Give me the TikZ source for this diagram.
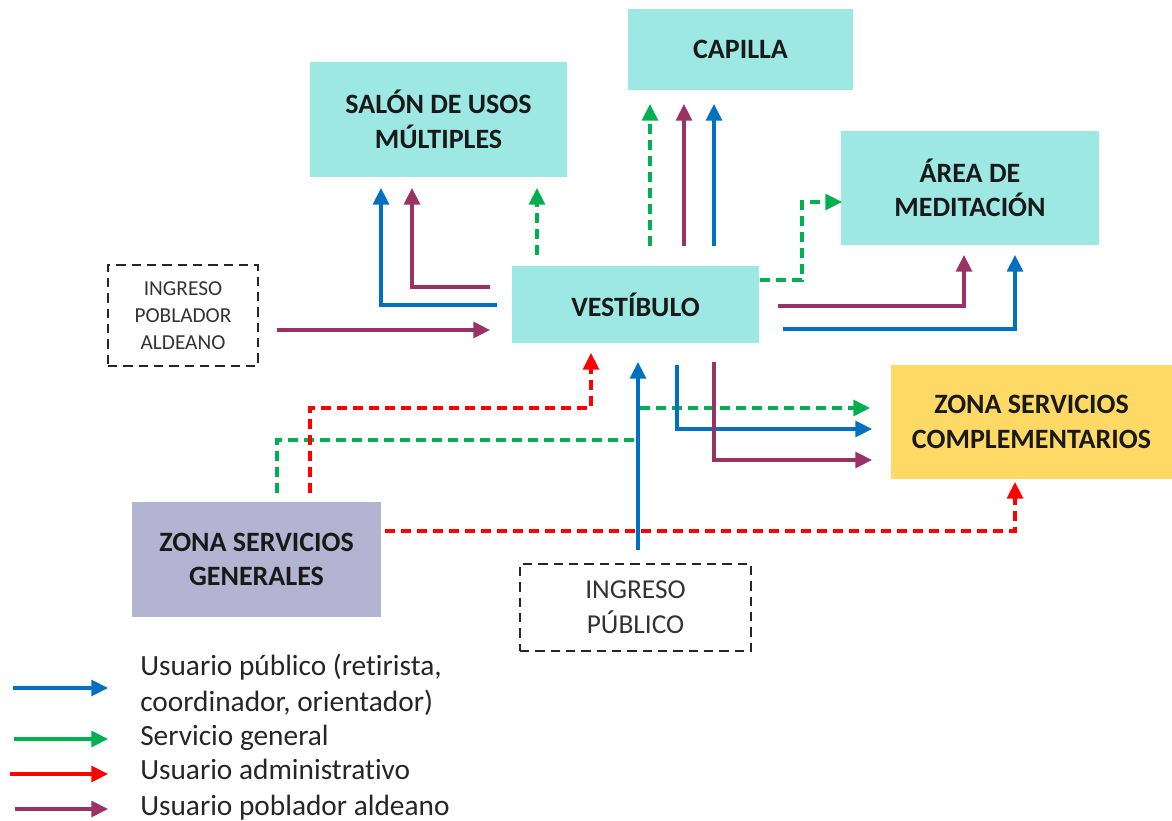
\documentclass[tikz,border=0pt]{standalone}
\usepackage{fontspec}
\setmainfont{Carlito}[Ligatures=NoCommon]
\usetikzlibrary{arrows.meta}
\definecolor{cyanbox}{RGB}{158,232,228}
\definecolor{goldbox}{RGB}{255,217,102}
\definecolor{lavbox}{RGB}{180,180,210}
\definecolor{cblue}{RGB}{0,112,192}
\definecolor{cgreen}{RGB}{0,176,80}
\definecolor{cred}{RGB}{255,0,0}
\definecolor{cpurple}{RGB}{153,51,102}
\begin{document}
\begin{tikzpicture}[x=0.75pt,y=-0.75pt,
  zone/.style={fill=cyanbox, draw=none, align=center, inner sep=0pt,
    font=\bfseries\fontsize{21}{26}\selectfont, text=black!90},
  entrybox/.style={draw=black!85, line width=1.7pt, dash pattern=on 7pt off 4.5pt,
    align=center, inner sep=0pt, text=black!80},
  flow/.style={line width=2.4pt, line join=miter, -{Triangle[length=12.5pt,width=12pt]}},
  pubflow/.style={flow, draw=cblue},
  genflow/.style={flow, draw=cgreen, dash pattern=on 7.5pt off 4.5pt},
  admflow/.style={flow, draw=cred, dash pattern=on 7.5pt off 4.5pt},
  aldflow/.style={flow, draw=cpurple},
  legtext/.style={anchor=base west, inner sep=0pt, text=black!85,
    font=\fontsize{22}{27}\selectfont}
]
\useasboundingbox (0,0) rectangle (1172,821);

% ---------------- boxes ----------------
\node[zone, minimum width=192.75pt, minimum height=86.25pt] (salon) at (438.5,119.5)
  {SALÓN DE USOS\\MÚLTIPLES};
\node[zone, minimum width=168.75pt, minimum height=60.75pt] (capilla) at (740.5,49.5)
  {CAPILLA};
\node[zone, minimum width=185.25pt, minimum height=57.75pt] (vest) at (635.5,304.5)
  {VESTÍBULO};
\node[zone, minimum width=193.5pt, minimum height=85.5pt] (med) at (970,188)
  {ÁREA DE\\MEDITACIÓN};
\node[zone, fill=goldbox, minimum width=210.75pt, minimum height=85.5pt] (zsc) at (1031.5,422)
  {ZONA SERVICIOS\\COMPLEMENTARIOS};
\node[zone, fill=lavbox, minimum width=186.75pt, minimum height=86.25pt] (zsg) at (256.5,559.5)
  {ZONA SERVICIOS\\GENERALES};
\node[entrybox, minimum width=112.5pt, minimum height=75.75pt,
  font=\fontsize{16}{20}\selectfont] (ipa) at (183,315.5)
  {INGRESO\\POBLADOR\\ALDEANO};
\node[entrybox, minimum width=173.25pt, minimum height=65.25pt,
  font=\fontsize{20.5}{26}\selectfont] (ipu) at (635.5,607.5)
  {INGRESO\\PÚBLICO};

% ---------------- connector ends ----------------
% salon
\coordinate (sb0) at (497,305);  \coordinate (sb1) at (381,188);
\coordinate (sp0) at (490,287);  \coordinate (sp1) at (412,188);
\coordinate (sg0) at (537,255);  \coordinate (sg1) at (537,188);
% capilla
\coordinate (cg0) at (650,246);  \coordinate (cg1) at (650,104);
\coordinate (cp0) at (684,246);  \coordinate (cp1) at (684,104);
\coordinate (cb0) at (714,246);  \coordinate (cb1) at (714,104);
% meditacion
\coordinate (mg0) at (760,280);  \coordinate (mg1) at (802,202);  \coordinate (mg2) at (842,202);
\coordinate (mp0) at (778,306);  \coordinate (mp1) at (964,255);
\coordinate (mb0) at (783,329);  \coordinate (mb1) at (1015,255);
% ingreso poblador
\coordinate (ia0) at (277,330);  \coordinate (ia1) at (490,330);
% servicios generales
\coordinate (rv0) at (310,493);  \coordinate (rv1) at (591,408);  \coordinate (rv2) at (591,353);
\coordinate (gz0) at (277,493);  \coordinate (gz1) at (638,440);  \coordinate (gz2) at (870,408);
\coordinate (rz0) at (385,531);  \coordinate (rz1) at (1015,482);
% ingreso publico / complementarios
\coordinate (ib0) at (638,550);  \coordinate (ib1) at (638,362);
\coordinate (zb0) at (677,365);  \coordinate (zb1) at (872,429);
\coordinate (zp0) at (714,362);  \coordinate (zp1) at (872,460);

% ---------------- connectors ----------------
% green (servicio general)
\draw[genflow] (sg0) -- (sg1);
\draw[genflow] (cg0) -- (cg1);
\draw[genflow] (mg0) -| (mg1) -- (mg2);
\draw[genflow] (gz0) |- (gz1) |- (gz2);
% blue (usuario publico)
\draw[pubflow] (sb0) -| (sb1);
\draw[pubflow] (cb0) -- (cb1);
\draw[pubflow] (mb0) -| (mb1);
\draw[pubflow] (ib0) -- (ib1);
\draw[pubflow] (zb0) |- (zb1);
% purple (poblador aldeano)
\draw[aldflow] (sp0) -| (sp1);
\draw[aldflow] (cp0) -- (cp1);
\draw[aldflow] (mp0) -| (mp1);
\draw[aldflow] (ia0) -- (ia1);
\draw[aldflow] (zp0) |- (zp1);
% red (administrativo)
\draw[admflow] (rv0) |- (rv1) -- (rv2);
\draw[admflow] (rz0) -| (rz1);

% ---------------- legend ----------------
\coordinate (lb0) at (13,688);  \coordinate (lb1) at (108,688);
\coordinate (lg0) at (14,739);  \coordinate (lg1) at (108,739);
\coordinate (lr0) at (10,774);  \coordinate (lr1) at (108,774);
\coordinate (lp0) at (15,809);  \coordinate (lp1) at (108,809);
\draw[flow, draw=cblue] (lb0) -- (lb1);
\draw[flow, draw=cgreen] (lg0) -- (lg1);
\draw[flow, draw=cred] (lr0) -- (lr1);
\draw[flow, draw=cpurple] (lp0) -- (lp1);
\node[legtext] (leg1) at (140,675) {Usuario público (retirista,};
\node[legtext] (leg2) at (140,711) {coordinador, orientador)};
\node[legtext] (leg3) at (140,745) {Servicio general};
\node[legtext] (leg4) at (140,779) {Usuario administrativo};
\node[legtext] (leg5) at (140,815) {Usuario poblador aldeano};
\end{tikzpicture}
\end{document}
